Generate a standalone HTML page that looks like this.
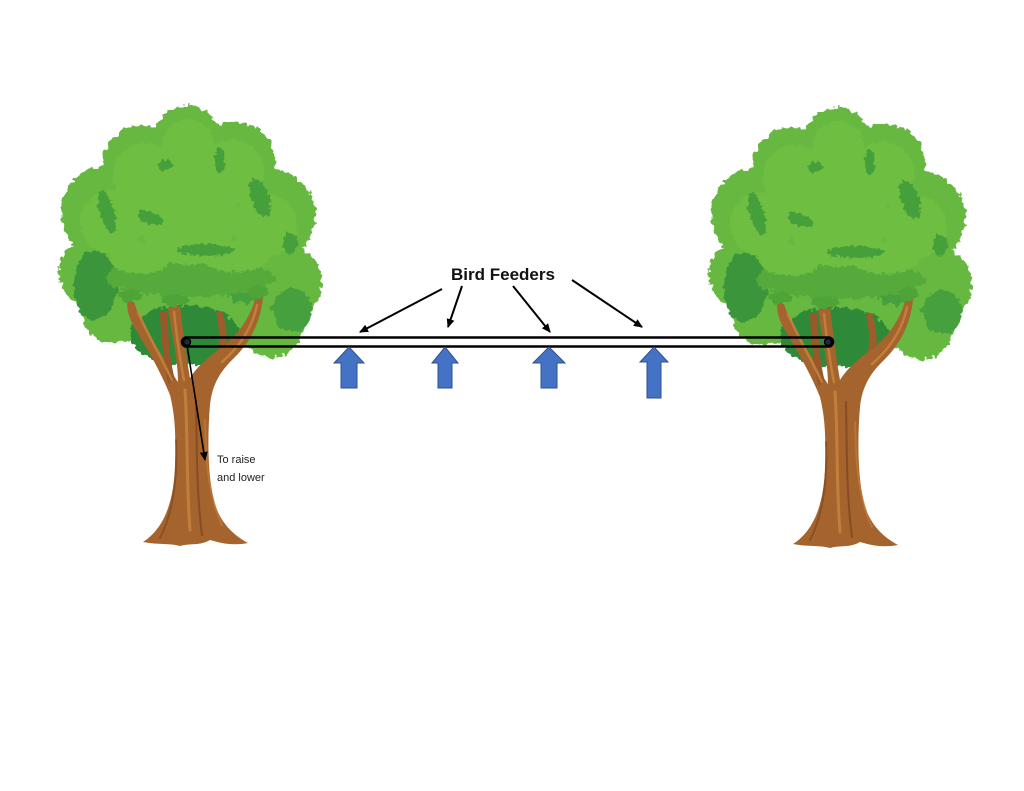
<!DOCTYPE html>
<html><head><meta charset="utf-8"><style>
html,body{margin:0;padding:0;background:#fff;}
svg{display:block;}
</style></head><body>
<svg width="1024" height="791" viewBox="0 0 1024 791" xmlns="http://www.w3.org/2000/svg">
<defs>
<filter id="leafy" x="-10%" y="-10%" width="120%" height="120%">
<feTurbulence type="fractalNoise" baseFrequency="0.18" numOctaves="2" seed="3" result="n"/>
<feDisplacementMap in="SourceGraphic" in2="n" scale="9" xChannelSelector="R" yChannelSelector="G"/>
</filter>
<filter id="leafy2" x="-20%" y="-20%" width="140%" height="140%">
<feTurbulence type="fractalNoise" baseFrequency="0.25" numOctaves="2" seed="7" result="n"/>
<feDisplacementMap in="SourceGraphic" in2="n" scale="7" xChannelSelector="R" yChannelSelector="G"/>
</filter>
<marker id="ah" markerWidth="10" markerHeight="10" refX="8" refY="5" orient="auto" markerUnits="userSpaceOnUse">
<path d="M0,1 L9,5 L0,9 Z" fill="#000"/>
</marker>
<g id="tree">
  <g filter="url(#leafy)">
    <g fill="#66b83f">
      <circle cx="187" cy="137" r="32"/>
      <circle cx="142" cy="165" r="40"/>
      <circle cx="235" cy="162" r="40"/>
      <circle cx="107" cy="212" r="46"/>
      <circle cx="270" cy="215" r="46"/>
      <circle cx="187" cy="212" r="65"/>
      <circle cx="97" cy="272" r="38"/>
      <circle cx="284" cy="282" r="38"/>
      <circle cx="150" cy="290" r="55"/>
      <circle cx="230" cy="292" r="55"/>
      <circle cx="190" cy="318" r="42"/>
      <circle cx="112" cy="312" r="30"/>
      <circle cx="272" cy="325" r="32"/>
    </g>
    <ellipse cx="185" cy="335" rx="55" ry="30" fill="#2f8a38"/>
    <ellipse cx="95" cy="285" rx="22" ry="35" fill="#3a953a"/>
    <ellipse cx="292" cy="310" rx="20" ry="22" fill="#45a03c"/>
    <ellipse cx="245" cy="290" rx="18" ry="14" fill="#45a03c"/>
    <ellipse cx="190" cy="278" rx="85" ry="18" fill="#55aa3b"/>
  </g>
  <g filter="url(#leafy2)" fill="#6ebe43">
    <circle cx="188" cy="145" r="26"/>
    <circle cx="145" cy="175" r="32"/>
    <circle cx="232" cy="172" r="32"/>
    <circle cx="112" cy="222" r="32"/>
    <circle cx="265" cy="225" r="32"/>
    <circle cx="188" cy="215" r="50"/>
    <ellipse cx="140" cy="258" rx="30" ry="16"/>
    <ellipse cx="235" cy="256" rx="34" ry="16"/>
  </g>
  <g filter="url(#leafy2)" fill="#45a03b">
    <ellipse cx="107" cy="212" rx="7" ry="22" transform="rotate(-15 107 212)"/>
    <ellipse cx="165" cy="165" rx="7" ry="6"/>
    <ellipse cx="150" cy="218" rx="14" ry="6" transform="rotate(20 150 218)"/>
    <ellipse cx="220" cy="160" rx="5" ry="13"/>
    <ellipse cx="260" cy="198" rx="9" ry="20" transform="rotate(-20 260 198)"/>
    <ellipse cx="290" cy="243" rx="7" ry="11"/>
    <ellipse cx="205" cy="250" rx="28" ry="6"/>
  </g>
  <path d="M143,542 C165,528 174,500 175,465 C176,435 175,415 170,395 C160,370 145,345 133,325 C128,315 126,306 128,300 L134,302 C140,320 152,340 165,360 C170,370 175,378 178,382 C178,360 172,335 168,308 L180,306 C183,330 186,355 190,378 C196,368 205,360 218,350 C235,338 248,322 255,300 L263,298 C260,325 248,345 232,360 C220,372 212,385 210,405 C207,440 208,480 215,505 C222,525 235,536 248,543 C232,546 220,543 210,540 C200,546 190,543 180,546 C170,543 158,545 143,542 Z" fill="#a5642e"/>
  <path d="M160,312 L168,312 C168,340 170,360 175,380 L168,384 C164,360 161,340 160,312 Z" fill="#98582a"/>
  <path d="M216,312 L222,311 C226,325 228,335 226,345 L218,350 C220,338 219,325 216,312 Z" fill="#9c5c2b"/>
  <g fill="none" stroke-linecap="round">
    <path d="M185,390 C188,430 186,480 190,530" stroke="#c9843e" stroke-width="3" opacity="0.8"/>
    <path d="M196,400 C197,440 196,490 202,535" stroke="#7a421d" stroke-width="2" opacity="0.7"/>
    <path d="M176,440 C178,480 172,515 160,538" stroke="#7a421d" stroke-width="2" opacity="0.6"/>
    <path d="M138,312 C148,335 160,355 172,380" stroke="#c9843e" stroke-width="2.5" opacity="0.8"/>
    <path d="M174,312 C177,340 180,360 184,380" stroke="#c9843e" stroke-width="2.5" opacity="0.8"/>
    <path d="M257,305 C252,330 238,348 222,362" stroke="#c9843e" stroke-width="2.5" opacity="0.8"/>
    <path d="M205,420 C206,460 208,495 222,525" stroke="#c07a3a" stroke-width="2" opacity="0.7"/>
  </g>
  <g filter="url(#leafy2)" fill="#4fa439">
    <ellipse cx="130" cy="296" rx="12" ry="6"/>
    <ellipse cx="175" cy="300" rx="14" ry="6"/>
    <ellipse cx="258" cy="292" rx="10" ry="6"/>
  </g>
</g>
</defs>

<rect width="1024" height="791" fill="#fff"/>

<use href="#tree"/>
<use href="#tree" transform="translate(650,2)"/>

<rect x="182" y="337.5" width="651" height="9" rx="4.5" ry="4.5" fill="none" stroke="#000" stroke-width="2.6"/>
<circle cx="187" cy="342" r="3.5" fill="#1a2a40" stroke="#000" stroke-width="1.5"/>
<circle cx="828" cy="342" r="3.5" fill="#1a2a40" stroke="#000" stroke-width="1.5"/>

<line x1="187" y1="345" x2="205" y2="460" stroke="#000" stroke-width="1.6" marker-end="url(#ah)"/>
<text x="217" y="463" font-family="Liberation Sans, sans-serif" font-size="11" fill="#222">To raise</text>
<text x="217" y="481" font-family="Liberation Sans, sans-serif" font-size="11" fill="#222">and lower</text>

<text x="503" y="280" text-anchor="middle" font-family="Liberation Sans, sans-serif" font-weight="bold" font-size="17" fill="#111">Bird Feeders</text>
<g stroke="#000" stroke-width="2" marker-end="url(#ah)">
  <line x1="442" y1="289" x2="360" y2="332"/>
  <line x1="462" y1="286" x2="448" y2="327"/>
  <line x1="513" y1="286" x2="550" y2="332"/>
  <line x1="572" y1="280" x2="642" y2="327"/>
</g>

<g fill="#4472c4" stroke="#2f528f" stroke-width="1">
  <path d="M349,347 L364,363 L357,363 L357,388 L341,388 L341,363 L334,363 Z"/>
  <path d="M445,347 L458,363 L452,363 L452,388 L438,388 L438,363 L432,363 Z"/>
  <path d="M549,347 L565,363 L557,363 L557,388 L541,388 L541,363 L533,363 Z"/>
  <path d="M654,347 L668,362 L661,362 L661,398 L647,398 L647,362 L640,362 Z"/>
</g>
</svg>
</body></html>
